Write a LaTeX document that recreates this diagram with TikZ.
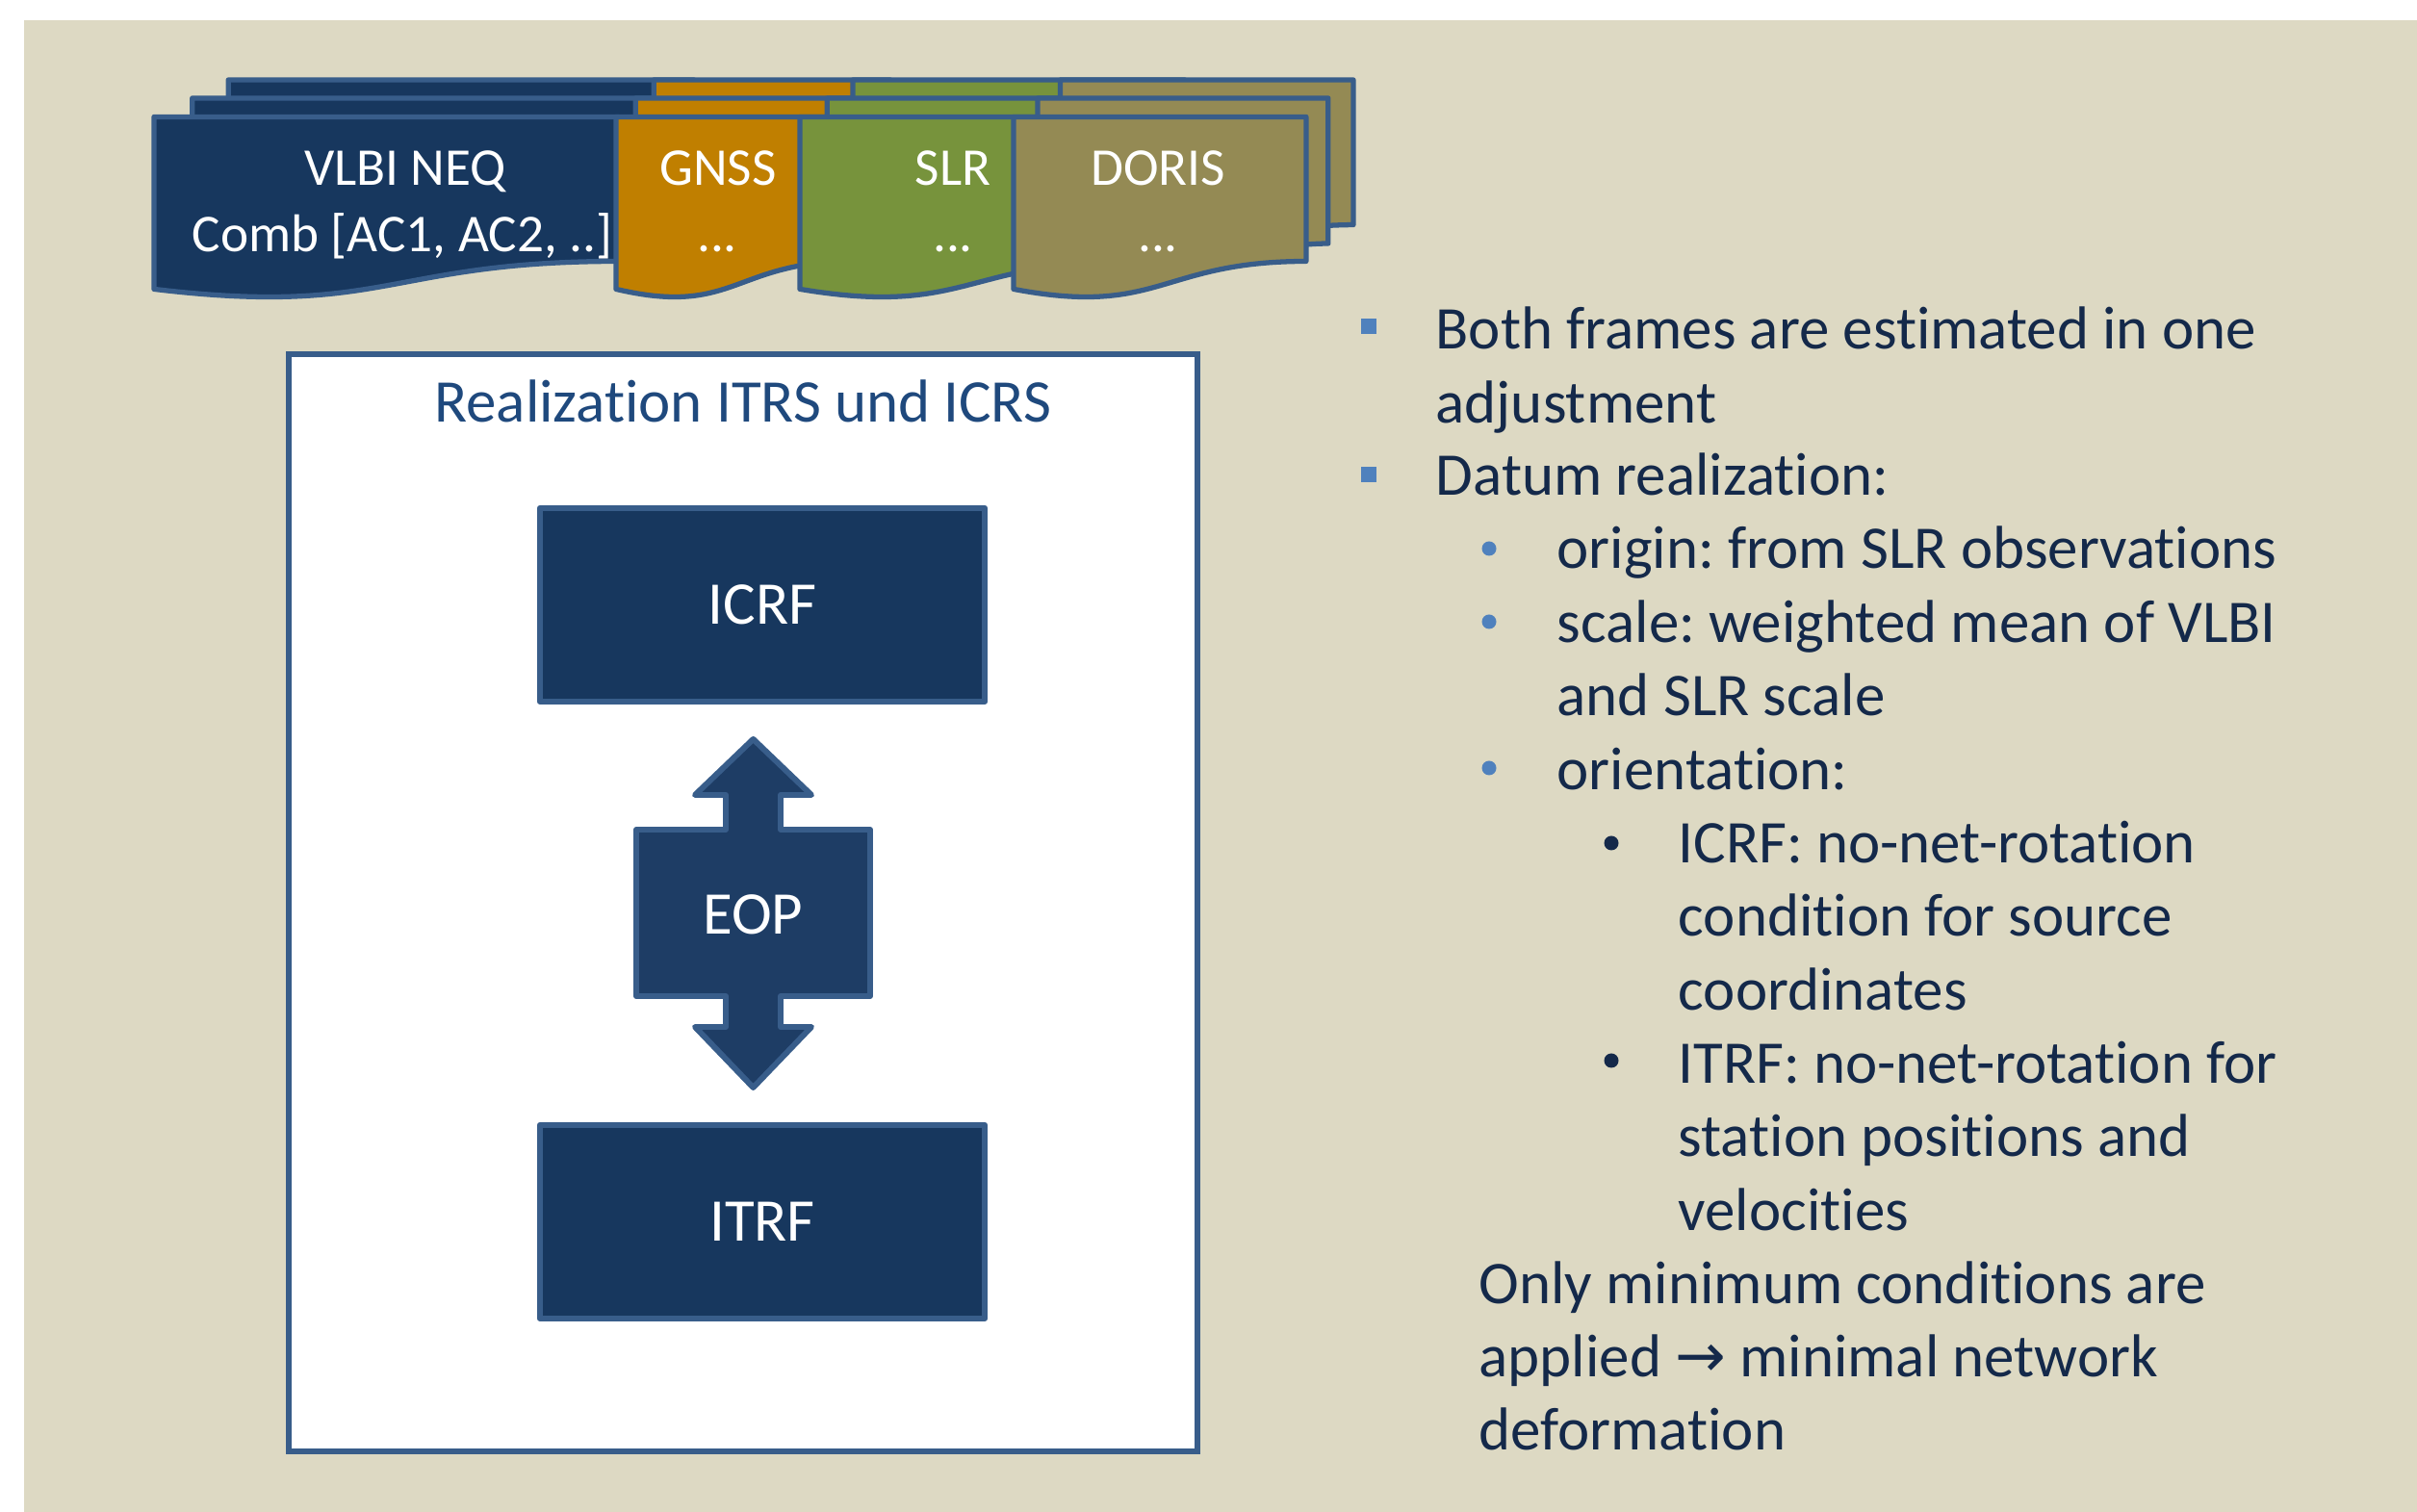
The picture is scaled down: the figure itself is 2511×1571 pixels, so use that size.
\documentclass[tikz,border=0pt]{standalone}
\usepackage{fontspec}
\setmainfont{Carlito}[Ligatures=NoCommon]
\newfontfamily\arrowfont{DejaVu Sans}
\frenchspacing
\definecolor{bgbeige}{HTML}{DDD9C3}
\definecolor{navy}{HTML}{17375E}
\definecolor{eopc}{HTML}{1E3D65}
\definecolor{edge}{HTML}{385D8A}
\definecolor{gnssc}{HTML}{C07F00}
\definecolor{slrc}{HTML}{77933C}
\definecolor{dorisc}{HTML}{948A54}
\definecolor{titleblue}{HTML}{1F497D}
\definecolor{txtc}{HTML}{14294A}
\definecolor{bul}{HTML}{4F81BD}
\newcommand\myBig{\fontsize{17.9}{21.7}\selectfont}
\newcommand\myDoc{\fontsize{15.7}{19}\selectfont}
% multidocument shape: x y W H fill
\newcommand\mdoc[5]{%
 \begin{scope}[shift={(#1,#2)}, xscale=#3, yscale=#4]
  \draw[docline, fill=#5] (0.1376,0) -- (1,0) -- (1,0.6663)
     .. controls (0.963,0.6663) and (0.9259,0.6698) .. (0.9259,0.6698)
     -- (0.1376,0.6698) -- cycle;
  \draw[docline, fill=#5] (0.0709,0.084) -- (0.9259,0.084) -- (0.9259,0.7524)
     .. controls (0.8934,0.7524) and (0.8609,0.757) .. (0.8609,0.757)
     -- (0.0709,0.757) -- cycle;
  \draw[docline, fill=#5] (0,0.1701) -- (0.8609,0.1701) -- (0.8609,0.8341)
     .. controls (0.4305,0.8344) and (0.4305,1.0899) .. (0,0.9621) -- cycle;
 \end{scope}}
\tikzset{
 docline/.style={draw=edge, line width=1.5pt, line join=round},
 framebox/.style={draw=edge, line width=1.7pt, fill=white, inner sep=0pt},
 navybox/.style={draw=edge, line width=1.7pt, fill=navy, text=white, inner sep=0pt,
   minimum width=4.62cm, minimum height=2.01cm, font=\myBig, line join=round},
 doctext/.style={text=white, font=\myDoc, inner sep=0pt, anchor=base},
 btext/.style={text=txtc, font=\myBig, inner sep=0pt, anchor=base west},
}
\begin{document}
\begin{tikzpicture}[x=0.01cm,y=-0.01cm]
\useasboundingbox (0,0) rectangle (2511,1571);
\fill[white] (0,0) rectangle (2511,1571);
\fill[bgbeige] (25,21) rectangle (2511,1571);

% stacked documents
\mdoc{160}{83}{561}{226}{navy}
\mdoc{640}{83}{285}{226}{gnssc}
\mdoc{831}{83}{400}{226}{slrc}
\mdoc{1053}{83}{353}{226}{dorisc}

\node[doctext] (vlbia) at (421,193) {VLBI NEQ};
\node[doctext] (vlbib) at (418,262) {Comb [AC1, AC2, ..]};
\node[doctext] (gnssa) at (746,193) {GNSS};
\node[doctext] (gnssb) at (745,262) {...};
\node[doctext] (slra) at (990,193) {SLR};
\node[doctext] (slrb) at (990,262) {...};
\node[doctext] (dorisa) at (1203,193) {DORIS};
\node[doctext] (dorisb) at (1203,262) {...};

% realization frame
\node[framebox, minimum width=9.44cm, minimum height=11.40cm] (frame) at (772,938) {};
\node[text=titleblue, font=\myBig, anchor=base, inner sep=0pt] (title) at (772,439) {Realization ITRS und ICRS};
\node[navybox] (icrf) at (792,628.5) {ICRF};
\node[navybox] (itrf) at (792,1269.5) {ITRF};
\draw[fill=eopc, draw=edge, line width=1.7pt, line join=round]
  (782.5,768) -- (843,826) -- (811,826) -- (811,862) -- (904,862) -- (904,1035)
  -- (811,1035) -- (811,1067) -- (843,1067) -- (782.5,1130) -- (722,1067)
  -- (754,1067) -- (754,1035) -- (661,1035) -- (661,862) -- (754,862)
  -- (754,826) -- (722,826) -- cycle;
\node[text=white, font=\myBig, inner sep=0pt] (eop) at (782.5,950) {EOP};

% bullets
\fill[bul] (1414,331) rectangle (1430,347);
\fill[bul] (1414,485) rectangle (1430,501);
\fill[bul] (1547,570) circle (7.5);
\fill[bul] (1547,646) circle (7.5);
\fill[bul] (1547,798) circle (7.5);
\fill[txtc] (1674,876) circle (7.5);
\fill[txtc] (1674,1102) circle (7.5);

\node[btext] (l1) at (1491,363) {Both frames are estimated in one};
\node[btext] (l2) at (1491,440) {adjustment};
\node[btext] (l3) at (1491,515) {Datum realization:};
\node[btext] (l4) at (1617,591) {origin: from SLR observations};
\node[btext] (l5) at (1617,668) {scale: weighted mean of VLBI};
\node[btext] (l6) at (1617,744) {and SLR scale};
\node[btext] (l7) at (1617,821) {orientation:};
\node[btext] (l8) at (1743,897) {ICRF: no-net-rotation};
\node[btext] (l9) at (1743,973) {condition for source};
\node[btext] (l10) at (1743,1050) {coordinates};
\node[btext] (l11) at (1743,1126) {ITRF: no-net-rotation for};
\node[btext] (l12) at (1743,1202) {station positions and};
\node[btext] (l13) at (1743,1279) {velocities};
\node[btext] (l14) at (1536,1355) {Only minimum conditions are};
\node[btext] (l15) at (1536,1431) {applied {\arrowfont →} minimal network};
\node[btext] (l16) at (1536,1507) {deformation};
\end{tikzpicture}
\end{document}
